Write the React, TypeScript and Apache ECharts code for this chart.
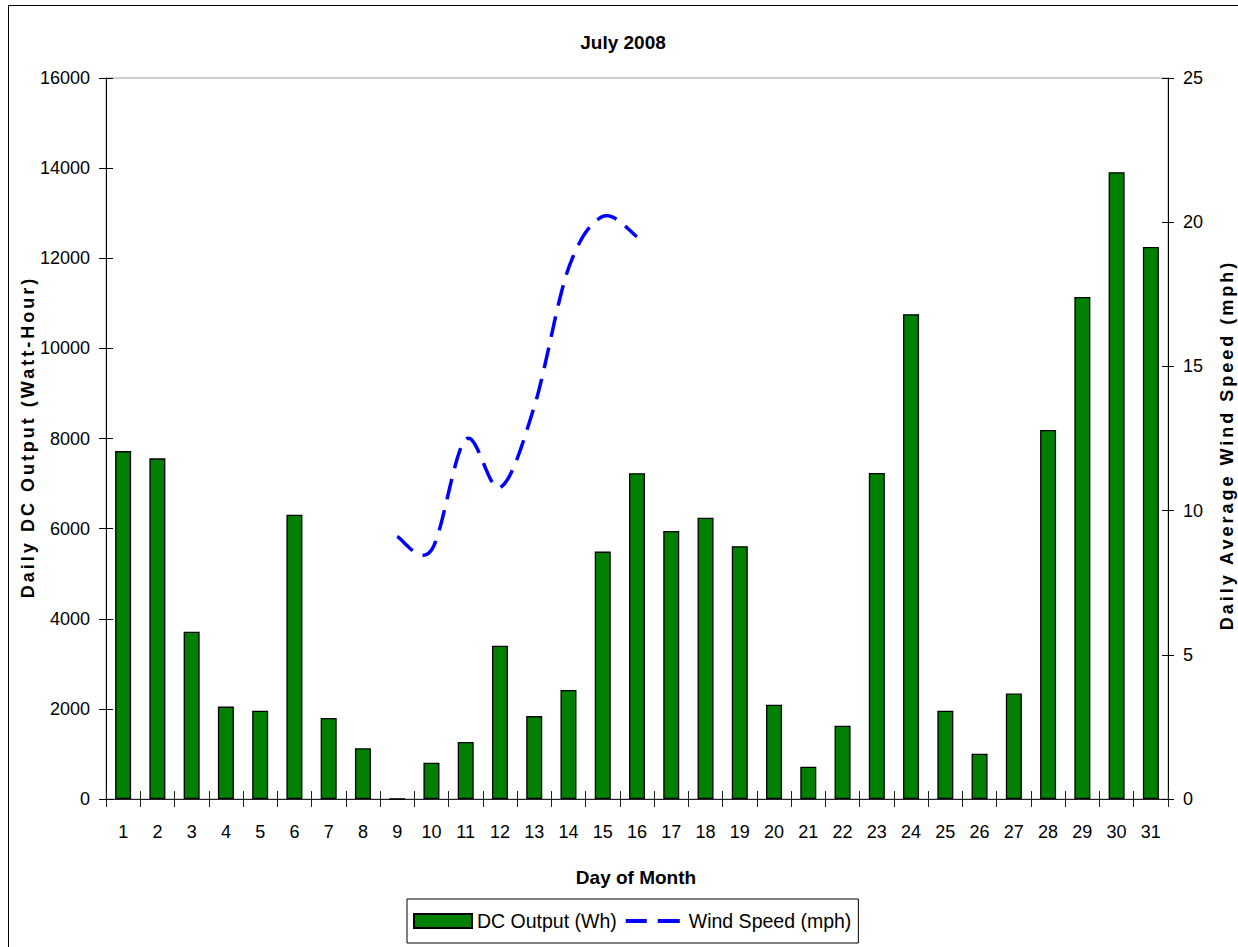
import React, { useEffect, useRef } from "react";
import * as echarts from "echarts";

const days: string[] = Array.from({ length: 31 }, (_, i) => String(i + 1));

const dcOutput: number[] = [
  7720, 7560, 3710, 2050, 1960, 6310, 1800, 1125, 0, 806,
  1265, 3400, 1840, 2420, 5490, 7230, 5950, 6240, 5610, 2090,
  715, 1625, 7235, 10760, 1960, 1005, 2340, 8190, 11140, 13910, 12250,
];

const windSpeed: (number | null)[] = [
  null, null, null, null, null, null, null, null,
  9.1, 8.63, 12.47, 10.8, 13.6, 18.4, 20.2, 19.5,
  null, null, null, null, null, null, null, null, null, null, null, null, null, null, null,
];

const leftTicks = { min: 0, max: 16000, interval: 2000 };
const rightTicks = { min: 0, max: 25, interval: 5 };

const FONT = "'Liberation Sans', Arial, Helvetica, sans-serif";

// [dayIndex, value] pairs for the days that have wind data
const windPoints: [number, number][] = windSpeed
  .map((v, i) => [i, v] as [number, number | null])
  .filter((p) => p[1] !== null) as [number, number][];

// Excel-style (Catmull-Rom) smoothing between pixel points
function catmullRom(pts: number[][], steps: number): number[][] {
  const out: number[][] = [];
  const n = pts.length;
  if (n === 0) return out;
  out.push(pts[0]);
  for (let i = 0; i < n - 1; i++) {
    const p0 = pts[Math.max(0, i - 1)];
    const p1 = pts[i];
    const p2 = pts[i + 1];
    const p3 = pts[Math.min(n - 1, i + 2)];
    const c1 = [p1[0] + (p2[0] - p0[0]) / 6, p1[1] + (p2[1] - p0[1]) / 6];
    const c2 = [p2[0] - (p3[0] - p1[0]) / 6, p2[1] - (p3[1] - p1[1]) / 6];
    for (let s = 1; s <= steps; s++) {
      const t = s / steps;
      const u = 1 - t;
      const a = u * u * u;
      const b = 3 * u * u * t;
      const c = 3 * u * t * t;
      const d = t * t * t;
      out.push([
        a * p1[0] + b * c1[0] + c * c2[0] + d * p2[0],
        a * p1[1] + b * c1[1] + c * c2[1] + d * p2[1],
      ]);
    }
  }
  return out;
}

export default function App() {
  const ref = useRef<HTMLDivElement>(null);

  useEffect(() => {
    document.body.style.margin = "0";
    if (!ref.current) return;
    const el = ref.current;
    const chart = echarts.init(el, undefined, { renderer: "svg" });

    const tickLabel = { color: "#000", fontSize: 18, fontFamily: FONT };

    const option: any = {
      animation: false,
      backgroundColor: "#fff",
      grid: {
        left: 106,
        right: 70,
        top: 78,
        bottom: 148,
        show: true,
        borderColor: "#a0a0a0",
        borderWidth: 1,
        backgroundColor: "transparent",
      },
      legend: {
        left: 407,
        top: 899,
        orient: "horizontal",
        itemWidth: 58,
        itemHeight: 14,
        itemGap: 9,
        padding: [12, 7, 12, 6],
        borderColor: "#000",
        borderWidth: 1,
        backgroundColor: "#fff",
        textStyle: { fontSize: 19.5, fontFamily: FONT, color: "#000" },
        data: [
          { name: "DC Output (Wh)", icon: "rect" },
          {
            name: "Wind Speed (mph)",
            icon:
              "path://M0,0h0.01v0.01h-0.01zM58,13.99h0.01v0.01h-0.01zM0,5h21v4h-21zM32,5h22v4h-22z",
            itemStyle: { color: "#0000ff", borderWidth: 0 },
          },
        ],
      },
      xAxis: [
        {
          type: "category",
          data: days,
          boundaryGap: true,
          axisLine: { show: true, lineStyle: { color: "#222", width: 1 } },
          axisTick: { show: true, inside: false, length: 8, alignWithLabel: false, lineStyle: { color: "#222" } },
          axisLabel: { ...tickLabel, margin: 24, interval: 0 },
          splitLine: { show: false },
        },
        {
          type: "category",
          data: days,
          position: "bottom",
          boundaryGap: true,
          axisLine: { show: false },
          axisTick: { show: true, inside: true, length: 8, alignWithLabel: false, lineStyle: { color: "#222" } },
          axisLabel: { show: false },
          splitLine: { show: false },
        },
      ],
      yAxis: [
        {
          type: "value",
          position: "left",
          ...leftTicks,
          axisLine: { show: true, lineStyle: { color: "#000", width: 1 } },
          axisTick: { show: true, inside: false, length: 7, lineStyle: { color: "#000" } },
          axisLabel: { ...tickLabel, margin: 16, formatter: (v: number) => String(v) },
          splitLine: { show: false },
        },
        {
          type: "value",
          position: "right",
          ...rightTicks,
          axisLine: { show: true, lineStyle: { color: "#000", width: 1 } },
          axisTick: { show: true, inside: false, length: 6, lineStyle: { color: "#000" } },
          axisLabel: { ...tickLabel, margin: 15, formatter: (v: number) => String(v) },
          splitLine: { show: false },
        },
        {
          type: "value",
          position: "left",
          ...leftTicks,
          axisLine: { show: false },
          axisTick: { show: true, inside: true, length: 7, lineStyle: { color: "#000" } },
          axisLabel: { show: false },
          splitLine: { show: false },
        },
        {
          type: "value",
          position: "right",
          ...rightTicks,
          axisLine: { show: false },
          axisTick: { show: true, inside: true, length: 6, lineStyle: { color: "#000" } },
          axisLabel: { show: false },
          splitLine: { show: false },
        },
      ],
      series: [
        {
          name: "DC Output (Wh)",
          type: "bar",
          xAxisIndex: 0,
          yAxisIndex: 0,
          data: dcOutput,
          barWidth: 16,
          itemStyle: { color: "#008000", borderColor: "#000", borderWidth: 1.3 },
        },
        {
          name: "Wind Speed (mph)",
          type: "custom",
          xAxisIndex: 0,
          yAxisIndex: 1,
          data: windPoints,
          encode: { x: 0, y: 1 },
          itemStyle: { color: "#0000ff" },
          z: 5,
          silent: true,
          renderItem: (params: any, api: any) => {
            if (params.dataIndex !== 0) return { type: "group", children: [] };
            const pix = windPoints.map((p) => api.coord([p[0], p[1]]));
            const pts = catmullRom(pix, 24);
            return {
              type: "polyline",
              shape: { points: pts },
              style: {
                stroke: "#0000ff",
                lineWidth: 3.5,
                lineDash: [21, 11],
                fill: "none",
              },
            };
          },
        },
      ],
      graphic: [
        {
          type: "rect",
          z: -10,
          silent: true,
          shape: { x: 8.5, y: 5.5, width: 1240, height: 960 },
          style: { fill: "none", stroke: "#000", lineWidth: 1 },
        },
        {
          type: "text",
          x: 623,
          y: 42,
          style: {
            text: "July 2008",
            fontSize: 19,
            fontWeight: "bold",
            fontFamily: FONT,
            fill: "#000",
            align: "center",
            verticalAlign: "middle",
            textAlign: "center",
            textVerticalAlign: "middle",
          },
        },
        {
          type: "text",
          x: 636,
          y: 877,
          style: {
            text: "Day of Month",
            fontSize: 19,
            fontWeight: "bold",
            fontFamily: FONT,
            fill: "#000",
            align: "center",
            verticalAlign: "middle",
            textAlign: "center",
            textVerticalAlign: "middle",
          },
        },
        {
          type: "text",
          x: 28,
          y: 437,
          rotation: Math.PI / 2,
          style: {
            text: "Daily DC Output (Watt-Hour)",
            fontSize: 18,
            fontWeight: "bold",
            fontFamily: FONT,
            fill: "#000",
            align: "center",
            verticalAlign: "middle",
            textAlign: "center",
            textVerticalAlign: "middle",
          },
        },
        {
          type: "text",
          x: 1227,
          y: 445,
          rotation: Math.PI / 2,
          style: {
            text: "Daily Average Wind Speed (mph)",
            fontSize: 18,
            fontWeight: "bold",
            fontFamily: FONT,
            fill: "#000",
            align: "center",
            verticalAlign: "middle",
            textAlign: "center",
            textVerticalAlign: "middle",
          },
        },
      ],
    };

    chart.setOption(option);

    const applySpacing = () => {
      el.querySelectorAll("text").forEach((t) => {
        const s = t.textContent || "";
        if (s.startsWith("Daily")) {
          t.setAttribute("letter-spacing", "3");
        }
      });
    };
    applySpacing();
    chart.on("finished", applySpacing);
    const timer = setTimeout(applySpacing, 30);

    return () => {
      clearTimeout(timer);
      chart.dispose();
    };
  }, []);

  return <div ref={ref} style={{ width: 1238, height: 947 }} />;
}
